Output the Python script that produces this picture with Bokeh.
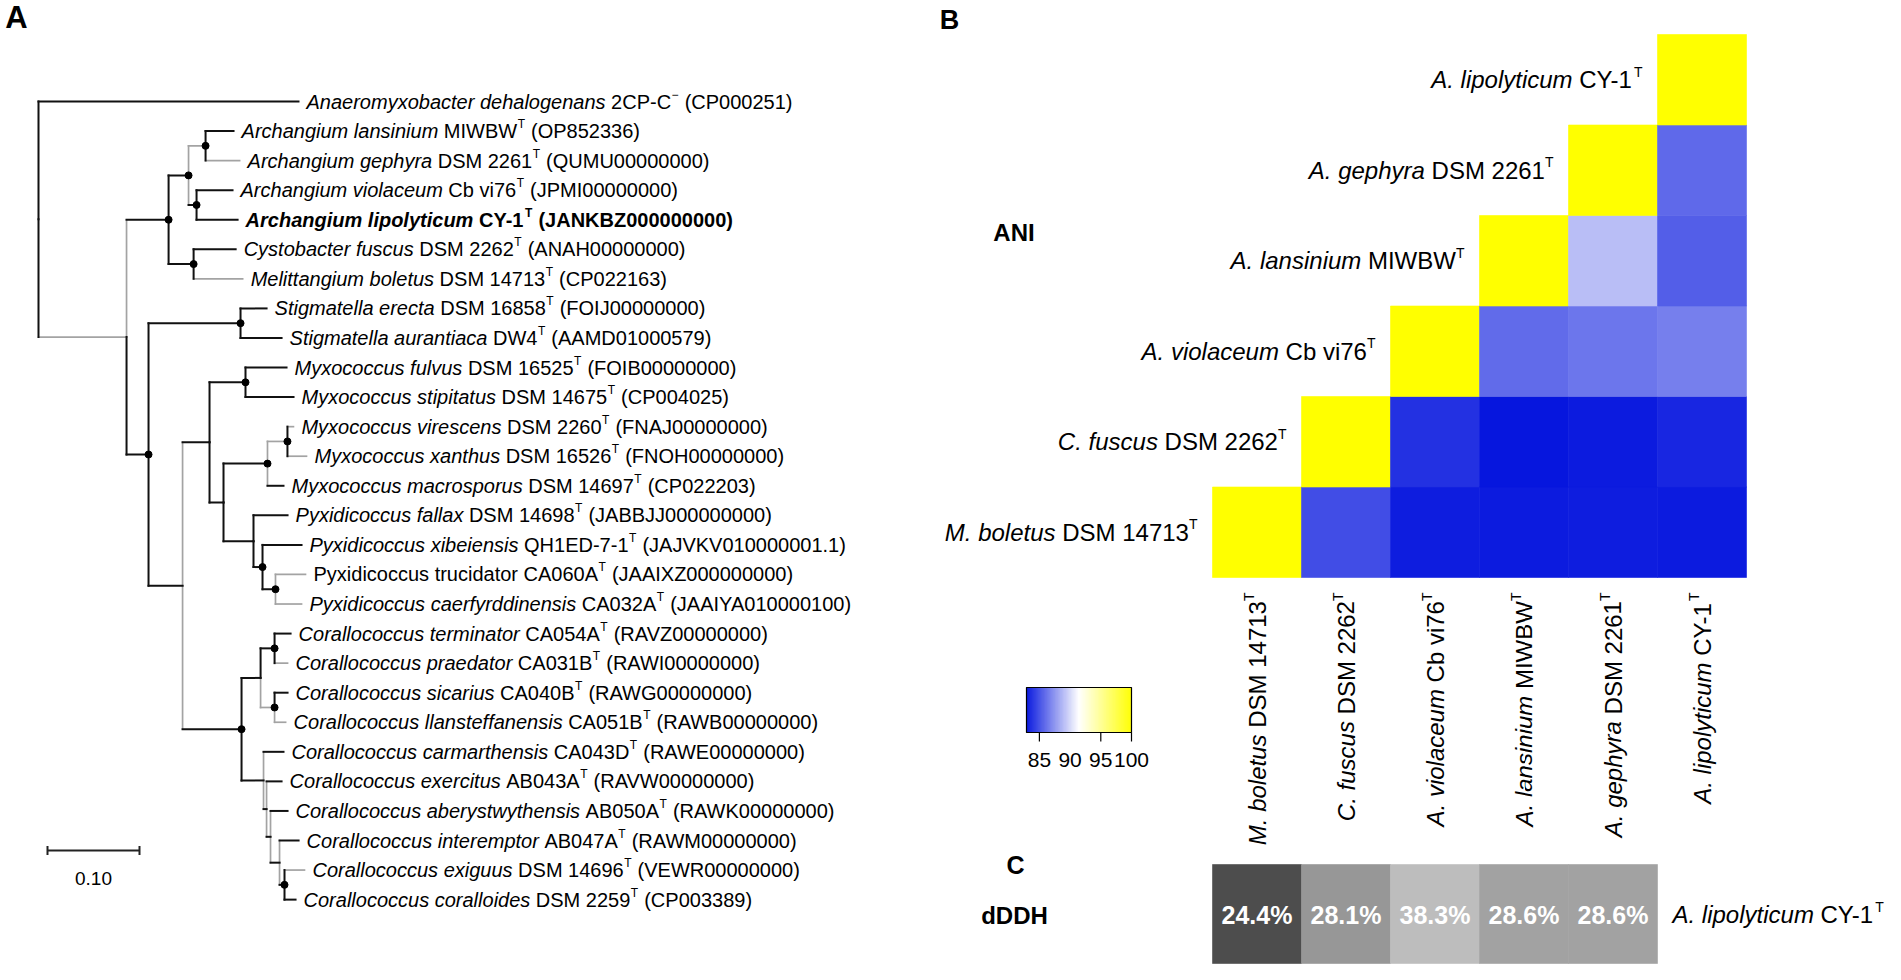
import math
from bokeh.plotting import figure
from bokeh.models import Range1d, ColumnDataSource, LinearColorMapper
from bokeh.transform import transform
from bokeh.layouts import row
from bokeh.embed import file_html
from bokeh.resources import INLINE
from bokeh.core.properties import value, field

FONT = "Liberation Sans"

# ------------------------------------------------------------------ tree data
tree_child = ["Anaeromyxobacter", "N1", "N2", "N3", "N3a", "lansinium", "gephyra", "N3b",
              "violaceum", "lipolyticum", "N4", "fuscus", "boletus", "N5", "N6", "erecta",
              "aurantiaca", "N7", "N8", "N9", "fulvus", "stipitatus", "N10", "N11", "N11a",
              "virescens", "xanthus", "macrosporus", "N12", "fallax", "N12a", "xibeiensis",
              "N12b", "trucidator", "caerfyrddinensis", "N13", "N14", "N15", "terminator",
              "praedator", "N16", "sicarius", "llansteffanensis", "N17", "carmarthensis",
              "N18", "exercitus", "N19", "aberystwythensis", "N20", "interemptor", "N21",
              "exiguus", "coralloides"]
tree_parent = ["root", "root", "N1", "N2", "N3", "N3a", "N3a", "N3",
               "N3b", "N3b", "N2", "N4", "N4", "N1", "N5", "N6",
               "N6", "N5", "N7", "N8", "N9", "N9", "N8", "N10", "N11",
               "N11a", "N11a", "N11", "N10", "N12", "N12", "N12a",
               "N12a", "N12b", "N12b", "N7", "N13", "N14", "N15",
               "N15", "N14", "N16", "N16", "N13", "N17",
               "N17", "N18", "N18", "N19", "N19", "N20", "N20",
               "N21", "N21"]
tree_brlen = [0.2826, 0.0957, 0.0457, 0.0217, 0.0185, 0.0304, 0.0370, 0.0087,
              0.0391, 0.0446, 0.0272, 0.0457, 0.0533, 0.0239, 0.1000, 0.0283,
              0.0446, 0.0370, 0.0293, 0.0391, 0.0446, 0.0522, 0.0152, 0.0478, 0.0217,
              0.0065, 0.0207, 0.0174, 0.0326, 0.0370, 0.0098, 0.0424,
              0.0141, 0.0326, 0.0283, 0.0641, 0.0207, 0.0152, 0.0174,
              0.0141, 0.0152, 0.0141, 0.0120, 0.0239, 0.0217,
              0.0033, 0.0163, 0.0043, 0.0185, 0.0098, 0.0207, 0.0054,
              0.0217, 0.0120]

leaf_ids = ["Anaeromyxobacter", "lansinium", "gephyra", "violaceum", "lipolyticum", "fuscus",
            "boletus", "erecta", "aurantiaca", "fulvus", "stipitatus", "virescens", "xanthus",
            "macrosporus", "fallax", "xibeiensis", "trucidator", "caerfyrddinensis",
            "terminator", "praedator", "sicarius", "llansteffanensis", "carmarthensis",
            "exercitus", "aberystwythensis", "interemptor", "exiguus", "coralloides"]
leaf_taxon = ["Anaeromyxobacter dehalogenans", "Archangium lansinium", "Archangium gephyra",
              "Archangium violaceum", "Archangium lipolyticum", "Cystobacter fuscus",
              "Melittangium boletus", "Stigmatella erecta", "Stigmatella aurantiaca",
              "Myxococcus fulvus", "Myxococcus stipitatus", "Myxococcus virescens",
              "Myxococcus xanthus", "Myxococcus macrosporus", "Pyxidicoccus fallax",
              "Pyxidicoccus xibeiensis", "Pyxidicoccus trucidator", "Pyxidicoccus caerfyrddinensis",
              "Corallococcus terminator", "Corallococcus praedator", "Corallococcus sicarius",
              "Corallococcus llansteffanensis", "Corallococcus carmarthensis",
              "Corallococcus exercitus", "Corallococcus aberystwythensis",
              "Corallococcus interemptor", "Corallococcus exiguus", "Corallococcus coralloides"]
leaf_strain = ["2CP-C", "MIWBW", "DSM 2261", "Cb vi76", "CY-1", "DSM 2262", "DSM 14713",
               "DSM 16858", "DW4", "DSM 16525", "DSM 14675", "DSM 2260", "DSM 16526",
               "DSM 14697", "DSM 14698", "QH1ED-7-1", "CA060A", "CA032A", "CA054A",
               "CA031B", "CA040B", "CA051B", "CA043D", "AB043A", "AB050A", "AB047A",
               "DSM 14696", "DSM 2259"]
leaf_sup = ["\u2212"] + ["T"] * 27
leaf_accession = ["(CP000251)", "(OP852336)", "(QUMU00000000)", "(JPMI00000000)",
                  "(JANKBZ000000000)", "(ANAH00000000)", "(CP022163)", "(FOIJ00000000)",
                  "(AAMD01000579)", "(FOIB00000000)", "(CP004025)", "(FNAJ00000000)",
                  "(FNOH00000000)", "(CP022203)", "(JABBJJ000000000)", "(JAJVKV010000001.1)",
                  "(JAAIXZ000000000)", "(JAAIYA010000100)", "(RAVZ00000000)", "(RAWI00000000)",
                  "(RAWG00000000)", "(RAWB00000000)", "(RAWE00000000)", "(RAVW00000000)",
                  "(RAWK00000000)", "(RAWM00000000)", "(VEWR00000000)", "(CP003389)"]
bold_leaves = ["lipolyticum"]
upright_taxon_leaves = ["trucidator"]
gray_vertical = ["N2", "N3a", "N3b", "N8", "N13", "N11a", "macrosporus", "trucidator",
                 "caerfyrddinensis", "N16", "llansteffanensis", "carmarthensis", "N18",
                 "exercitus", "N19", "aberystwythensis", "N20", "interemptor", "N21"]
gray_horizontal = ["N1", "N3a", "gephyra", "boletus", "N11a", "virescens", "xanthus",
                   "trucidator", "caerfyrddinensis", "praedator", "N16", "llansteffanensis",
                   "exiguus"]
supported_nodes = ["N2", "N3", "N3a", "N3b", "N4", "N5", "N6", "N9", "N11", "N11a",
                   "N12a", "N12b", "N13", "N15", "N16", "N21"]
scale_bar_length = 0.10
scale_bar_label = "0.10"

# ------------------------------------------------------------------ ANI / dDDH data
ani_abbr = ["M. boletus", "C. fuscus", "A. violaceum", "A. lansinium", "A. gephyra", "A. lipolyticum"]
ani_id = ["DSM 14713", "DSM 2262", "Cb vi76", "MIWBW", "DSM 2261", "CY-1"]
ani_matrix = [
    [100.0, 85.0, 83.3, 83.2, 83.3, 83.2],
    [None, 100.0, 84.0, 83.0, 83.2, 83.6],
    [None, None, 100.0, 86.1, 86.5, 86.8],
    [None, None, None, 100.0, 89.1, 85.6],
    [None, None, None, None, 100.0, 86.0],
    [None, None, None, None, None, 100.0],
]
ani_low = 82.9
ani_high = 100.0
cbar_ticks = [85, 95, 100]
cbar_labels = [85, 90, 95, 100]
ddh_values = [24.4, 28.1, 38.3, 28.6, 28.6]
ddh_colors = ["#4d4d4d", "#979797", "#bdbdbd", "#a2a2a2", "#a2a2a2"]
ddh_ref_abbr = "A. lipolyticum"
ddh_ref_id = "CY-1"
panel_labels = ["B", "ANI", "C", "dDDH"]

# ------------------------------------------------------------------ font metrics (Arial / Liberation Sans)
W_REG = {' ': 278, '(': 333, ')': 333, '-': 333, '.': 278, '%': 889, '\u2212': 584,
         'A': 667, 'B': 667, 'C': 722, 'D': 722, 'E': 667, 'F': 611, 'G': 778, 'H': 722, 'I': 278,
         'J': 500, 'K': 667, 'L': 556, 'M': 833, 'N': 722, 'O': 778, 'P': 667, 'Q': 778, 'R': 722,
         'S': 667, 'T': 611, 'U': 722, 'V': 667, 'W': 944, 'X': 667, 'Y': 667, 'Z': 611,
         'a': 556, 'b': 556, 'c': 500, 'd': 556, 'e': 556, 'f': 278, 'g': 556, 'h': 556, 'i': 222,
         'j': 222, 'k': 500, 'l': 222, 'm': 833, 'n': 556, 'o': 556, 'p': 556, 'q': 556, 'r': 333,
         's': 500, 't': 278, 'u': 556, 'v': 500, 'w': 722, 'x': 500, 'y': 500, 'z': 500}
W_BOLD = {' ': 278, '(': 333, ')': 333, '-': 333, '.': 278, '%': 889, '\u2212': 584,
          'A': 722, 'B': 722, 'C': 722, 'D': 722, 'E': 667, 'F': 611, 'G': 778, 'H': 722, 'I': 278,
          'J': 556, 'K': 722, 'L': 611, 'M': 833, 'N': 722, 'O': 778, 'P': 667, 'Q': 778, 'R': 722,
          'S': 667, 'T': 611, 'U': 722, 'V': 667, 'W': 944, 'X': 667, 'Y': 667, 'Z': 611,
          'a': 556, 'b': 611, 'c': 556, 'd': 611, 'e': 556, 'f': 333, 'g': 611, 'h': 611, 'i': 278,
          'j': 278, 'k': 556, 'l': 278, 'm': 889, 'n': 611, 'o': 611, 'p': 611, 'q': 611, 'r': 389,
          's': 556, 't': 333, 'u': 611, 'v': 556, 'w': 778, 'x': 556, 'y': 556, 'z': 500}


def tw(s, size, bold=False):
    tbl = W_BOLD if bold else W_REG
    return sum(tbl.get(ch, 556) for ch in s) * size / 1000.0


def new_src():
    return dict(x=[], y=[], text=[], xo=[], yo=[], style=[], size=[], angle=[], color=[])


def add(src, x, y, text, xo, yo, style, size, angle=0.0, color="black"):
    src["x"].append(x); src["y"].append(y); src["text"].append(text)
    src["xo"].append(xo); src["yo"].append(yo); src["style"].append(style)
    src["size"].append("%.1fpx" % size); src["angle"].append(angle); src["color"].append(color)


def draw_texts(p, src, align="left", baseline="middle"):
    p.text(x="x", y="y", text="text", x_offset="xo", y_offset="yo", angle="angle",
           text_font=value(FONT), text_font_style=field("style"), text_font_size=field("size"),
           text_color=field("color"), text_align=align, text_baseline=baseline,
           source=ColumnDataSource(src))


def blank(p):
    p.grid.visible = False
    p.outline_line_color = None
    p.background_fill_color = "white"
    p.border_fill_color = "white"


# ------------------------------------------------------------------ layout constants (page px)
W1, W2, H = 862, 1023, 964
ROOT_PX, UNIT_PX = 46.0, 920.0
LEAF0_PY, LEAF_STEP = 109.0, 29.56

# ------------------------------------------------------------------ tree figure
p1 = figure(width=W1, height=H, output_backend="svg", toolbar_location=None,
            x_axis_type=None, y_axis_type=None, min_border=0,
            x_range=Range1d((8 - ROOT_PX) / UNIT_PX, (8 + W1 - ROOT_PX) / UNIT_PX),
            y_range=Range1d((8 + H - LEAF0_PY) / LEAF_STEP, (8 - LEAF0_PY) / LEAF_STEP))
blank(p1)

depth = {"root": 0.0}
children = {}
for c, par, b in zip(tree_child, tree_parent, tree_brlen):
    depth[c] = depth[par] + b
    children.setdefault(par, []).append(c)
ypos = {lid: float(i) for i, lid in enumerate(leaf_ids)}


def gety(nm):
    if nm not in ypos:
        ch = children[nm]
        ypos[nm] = (gety(ch[0]) + gety(ch[-1])) / 2.0
    return ypos[nm]


gety("root")

seg = {"black": dict(x0=[], y0=[], x1=[], y1=[]), "gray": dict(x0=[], y0=[], x1=[], y1=[])}
for c, par in zip(tree_child, tree_parent):
    kv = "gray" if c in gray_vertical else "black"
    kh = "gray" if c in gray_horizontal else "black"
    for k, a in ((kv, (depth[par], ypos[par], depth[par], ypos[c])),
                 (kh, (depth[par], ypos[c], depth[c], ypos[c]))):
        seg[k]["x0"].append(a[0]); seg[k]["y0"].append(a[1])
        seg[k]["x1"].append(a[2]); seg[k]["y1"].append(a[3])
p1.segment(x0="x0", y0="y0", x1="x1", y1="y1", source=ColumnDataSource(seg["gray"]),
           line_color="#a3a3a3", line_width=1.7, line_cap="square")
p1.segment(x0="x0", y0="y0", x1="x1", y1="y1", source=ColumnDataSource(seg["black"]),
           line_color="#111111", line_width=2.0, line_cap="square")
p1.scatter(x=[depth[nm] for nm in supported_nodes], y=[ypos[nm] for nm in supported_nodes],
           size=7, color="black", marker="circle")

T_FS, T_SUP, T_GAP = 20.0, 12.0, 8.0
tsrc = new_src()
for i, lid in enumerate(leaf_ids):
    bold = lid in bold_leaves
    st_up = "bold" if bold else "normal"
    st_it = st_up if lid in upright_taxon_leaves else ("bold italic" if bold else "italic")
    x, y = depth[lid], float(i)
    xo = T_GAP
    add(tsrc, x, y, leaf_taxon[i], xo, 0.0, st_it, T_FS)
    xo += tw(leaf_taxon[i] + " ", T_FS, bold)
    add(tsrc, x, y, leaf_strain[i], xo, 0.0, st_up, T_FS)
    xo += tw(leaf_strain[i], T_FS, bold)
    add(tsrc, x, y, leaf_sup[i], xo + 0.5, -7.0, st_up, T_SUP)
    xo += tw(leaf_sup[i], T_SUP, bold) + 1 + tw(" ", T_FS, bold)
    add(tsrc, x, y, leaf_accession[i], xo, 0.0, st_up, T_FS)
draw_texts(p1, tsrc)

# scale bar
sb_x0 = (55 - ROOT_PX) / UNIT_PX
sb_y = (858 - LEAF0_PY) / LEAF_STEP
tick_h = 4.5 / LEAF_STEP
p1.segment(x0=[sb_x0, sb_x0, sb_x0 + scale_bar_length], y0=[sb_y, sb_y - tick_h, sb_y - tick_h],
           x1=[sb_x0 + scale_bar_length, sb_x0, sb_x0 + scale_bar_length],
           y1=[sb_y, sb_y + tick_h, sb_y + tick_h], line_color="#222222", line_width=2)
p1.text(x=[sb_x0 + scale_bar_length / 2], y=[(886 - LEAF0_PY) / LEAF_STEP], text=[scale_bar_label],
        text_font=value(FONT), text_font_size="19px", text_align="center", text_baseline="middle",
        text_color="black")
p1.text(x=[(24 - ROOT_PX) / UNIT_PX], y=[(25 - LEAF0_PY) / LEAF_STEP], text=["A"],
        text_font=value(FONT), text_font_size="31px", text_font_style="bold",
        text_align="center", text_baseline="middle", text_color="black")

# ------------------------------------------------------------------ heatmap figure
COL0_PX, COL_W, ROW0_PY, ROW_H = 1220.0, 89.0, 42.0, 90.5
P2_LEFT = 8 + W1


def cx(px):
    return (px - COL0_PX) / COL_W


def ry(py):
    return (py - ROW0_PY) / ROW_H


p2 = figure(width=W2, height=H, output_backend="svg", toolbar_location=None,
            x_axis_type=None, y_axis_type=None, min_border=0,
            x_range=Range1d(cx(P2_LEFT), cx(P2_LEFT + W2)),
            y_range=Range1d(ry(8 + H), ry(8)))
blank(p2)


def hexc(c):
    return "#%02x%02x%02x" % tuple(int(round(v)) for v in c)


lo_c, mid_c, hi_c = (4, 20, 222), (255, 255, 255), (255, 255, 0)
palette = []
for k in range(256):
    t = k / 255.0
    if t < 0.5:
        a, b, u = lo_c, mid_c, t * 2
    else:
        a, b, u = mid_c, hi_c, (t - 0.5) * 2
    palette.append(hexc([a[m] + (b[m] - a[m]) * u for m in range(3)]))
mapper = LinearColorMapper(palette=palette, low=ani_low, high=ani_high)

n = len(ani_abbr)
hm = dict(x=[], y=[], v=[])
for i in range(n):
    for j in range(n):
        if ani_matrix[i][j] is not None:
            hm["x"].append(j + 0.5)
            hm["y"].append((n - 1 - i) + 0.5)
            hm["v"].append(ani_matrix[i][j])
p2.rect(x="x", y="y", width=1, height=1, source=ColumnDataSource(hm),
        fill_color=transform("v", mapper), line_color=transform("v", mapper), line_width=0.6)

H_FS, H_SUP, H_GAP = 24.0, 14.0, 15.0
hsrc = new_src()
# row labels (right-aligned to the first cell of each row)
for i in range(n):
    w1 = tw(ani_abbr[i] + " ", H_FS)
    w2 = tw(ani_id[i], H_FS)
    w3 = tw("T", H_SUP)
    start = -H_GAP - (w1 + w2 + w3)
    yc = (n - 1 - i) + 0.5
    add(hsrc, float(i), yc, ani_abbr[i], start, 0.0, "italic", H_FS)
    add(hsrc, float(i), yc, ani_id[i], start + w1, 0.0, "normal", H_FS)
    add(hsrc, float(i), yc, "T", start + w1 + w2, -8.0, "normal", H_SUP)
# column labels (rotated, reading upwards, top end just below the matrix)
rot = math.pi / 2
for j in range(n):
    w1 = tw(ani_abbr[j] + " ", H_FS)
    w2 = tw(ani_id[j], H_FS)
    w3 = tw("T", H_SUP)
    down = H_GAP + (w1 + w2 + w3)
    add(hsrc, j + 0.5, float(n), ani_abbr[j], 0.0, down, "italic", H_FS, rot)
    add(hsrc, j + 0.5, float(n), ani_id[j], 0.0, down - w1, "normal", H_FS, rot)
    add(hsrc, j + 0.5, float(n), "T", -8.0, down - w1 - w2, "normal", H_SUP, rot)
# dDDH reference label
w1 = tw(ddh_ref_abbr + " ", H_FS)
w2 = tw(ddh_ref_id, H_FS)
ddh_top, ddh_bot = ry(872), ry(971)
ddh_mid = ry(922)
add(hsrc, float(len(ddh_values)), ddh_mid, ddh_ref_abbr, H_GAP, 0.0, "italic", H_FS)
add(hsrc, float(len(ddh_values)), ddh_mid, ddh_ref_id, H_GAP + w1, 0.0, "normal", H_FS)
add(hsrc, float(len(ddh_values)), ddh_mid, "T", H_GAP + w1 + w2, -8.0, "normal", H_SUP)
draw_texts(p2, hsrc)

# dDDH row
p2.quad(left=list(range(len(ddh_values))), right=[k + 1 for k in range(len(ddh_values))],
        top=ddh_top, bottom=ddh_bot, fill_color=ddh_colors, line_color=ddh_colors, line_width=0.6)
p2.text(x=[k + 0.5 for k in range(len(ddh_values))], y=ddh_mid,
        text=["%.1f%%" % v for v in ddh_values], text_font=value(FONT), text_font_size="25px",
        text_font_style="bold", text_color="white", text_align="center", text_baseline="middle")

# colour key
cb_l, cb_r, cb_t, cb_b = cx(1034), cx(1139), ry(695), ry(740)
nstep = 140
step_v = (ani_high - ani_low) / nstep
cb = dict(x=[], v=[])
for k in range(nstep):
    v = ani_low + (k + 0.5) * step_v
    cb["v"].append(v)
    cb["x"].append(cb_l + (v - ani_low) / (ani_high - ani_low) * (cb_r - cb_l))
p2.rect(x="x", y=(cb_t + cb_b) / 2, width=(cb_r - cb_l) / nstep * 1.02, height=cb_b - cb_t,
        source=ColumnDataSource(cb), fill_color=transform("v", mapper),
        line_color=transform("v", mapper), line_width=0.5)
p2.quad(left=cb_l, right=cb_r, top=cb_t, bottom=cb_b, fill_color=None, line_color="black",
        line_width=1.2)


def cbx(v):
    return cb_l + (v - ani_low) / (ani_high - ani_low) * (cb_r - cb_l)


p2.segment(x0=[cbx(v) for v in cbar_ticks], x1=[cbx(v) for v in cbar_ticks],
           y0=cb_b, y1=ry(749), line_color="black", line_width=1.2)
p2.text(x=[cbx(v) for v in cbar_labels], y=ry(767), text=[str(v) for v in cbar_labels],
        text_font=value(FONT), text_font_size="21px", text_color="black",
        text_align="center", text_baseline="middle")

# panel labels
pl = dict(x=[cx(957), cx(1021.5), cx(1023), cx(1022)], y=[ry(27), ry(240), ry(872), ry(923)],
          text=panel_labels, fs=["27px", "24px", "25px", "24px"])
p2.text(x="x", y="y", text="text", text_font=value(FONT),
        text_font_size=field("fs"), text_font_style="bold", text_color="black",
        text_align="center", text_baseline="middle", source=ColumnDataSource(pl))

layout = row(p1, p2, spacing=0)
open("out.html", "w").write(file_html(layout, INLINE))
